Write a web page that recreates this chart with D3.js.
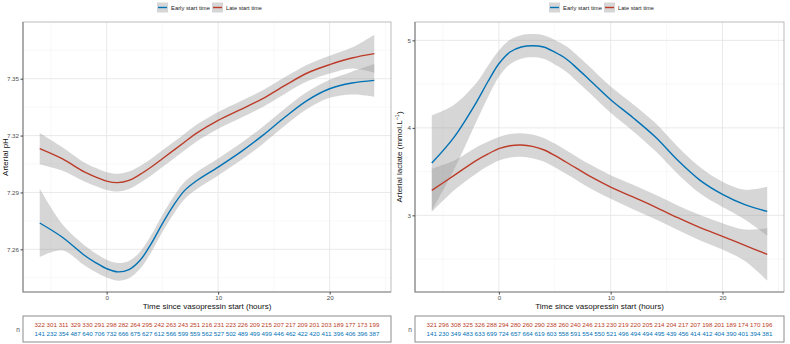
<!DOCTYPE html>
<html>
<head>
<meta charset="utf-8">
<title>Vasopressin start time</title>
<script src="https://cdn.jsdelivr.net/npm/d3@7"></script>
<style>
  body { margin: 0; background: #fff; }
  svg { font-family: "Liberation Sans", Arial, sans-serif; }
</style>
</head>
<body>
<script>
// smoothed curves, read at these hours
var hours = [-6, -4, -2, -1, 0, 1, 2, 3, 4, 5, 6, 7, 8, 10, 12, 14, 16, 18, 20, 22, 24];

// arterial pH
var phEarly = [7.2739, 7.2665, 7.2569, 7.2530, 7.2498, 7.2481, 7.2493, 7.2542, 7.2630, 7.2736, 7.2832, 7.2911, 7.2959, 7.3034, 7.3113, 7.3201, 7.3298, 7.3386, 7.3447, 7.3477, 7.3491];
var phEarlyBand = [0.0180, 0.0070, 0.0053, 0.0050, 0.0047, 0.0047, 0.0046, 0.0045, 0.0045, 0.0045, 0.0045, 0.0045, 0.0045, 0.0045, 0.0045, 0.0045, 0.0045, 0.0045, 0.0048, 0.0060, 0.0086];
var phLate = [7.3131, 7.3078, 7.3008, 7.2982, 7.2960, 7.2952, 7.2964, 7.2995, 7.3034, 7.3078, 7.3122, 7.3166, 7.3210, 7.3280, 7.3337, 7.3395, 7.3465, 7.3530, 7.3574, 7.3609, 7.3632];
var phLateBand = [0.0083, 0.0062, 0.0050, 0.0048, 0.0047, 0.0047, 0.0046, 0.0044, 0.0044, 0.0044, 0.0044, 0.0044, 0.0044, 0.0044, 0.0044, 0.0044, 0.0044, 0.0044, 0.0047, 0.0055, 0.0100];

// arterial lactate
var lacEarly = [3.598, 3.895, 4.295, 4.524, 4.733, 4.867, 4.924, 4.939, 4.924, 4.865, 4.790, 4.680, 4.562, 4.322, 4.116, 3.895, 3.629, 3.400, 3.240, 3.122, 3.046];
var lacEarlyBand = [0.545, 0.37, 0.22, 0.18, 0.15, 0.14, 0.135, 0.133, 0.135, 0.14, 0.145, 0.15, 0.15, 0.15, 0.155, 0.16, 0.155, 0.15, 0.145, 0.17, 0.28];
var lacLate = [3.286, 3.457, 3.629, 3.700, 3.762, 3.796, 3.804, 3.789, 3.750, 3.685, 3.610, 3.533, 3.457, 3.324, 3.210, 3.095, 2.973, 2.859, 2.760, 2.657, 2.554];
var lacLateBand = [0.248, 0.17, 0.15, 0.14, 0.135, 0.135, 0.135, 0.135, 0.135, 0.135, 0.135, 0.135, 0.135, 0.135, 0.14, 0.14, 0.14, 0.145, 0.15, 0.18, 0.30];

// numbers at risk under each panel
var nPhLate = [322, 301, 311, 329, 330, 291, 298, 282, 264, 295, 242, 263, 243, 251, 216, 231, 223, 226, 209, 215, 207, 217, 209, 201, 203, 189, 177, 173, 199];
var nPhEarly = [141, 232, 354, 487, 640, 706, 732, 666, 675, 627, 612, 566, 599, 559, 562, 527, 502, 489, 499, 499, 446, 462, 422, 420, 411, 396, 406, 396, 387];
var nLacLate = [321, 296, 308, 325, 326, 288, 294, 280, 260, 290, 238, 260, 240, 246, 213, 230, 219, 220, 205, 214, 204, 217, 207, 198, 201, 189, 174, 170, 196];
var nLacEarly = [141, 230, 349, 483, 633, 699, 724, 657, 664, 619, 603, 558, 591, 554, 550, 521, 496, 494, 494, 495, 439, 456, 414, 412, 404, 390, 401, 394, 381];

var xTicks = [0, 10, 20];
var xMinor = [-5, 5, 15, 25];
var phTicks = [7.26, 7.29, 7.32, 7.35];
var lacTicks = [3, 4, 5];
var groups = ["Early start time", "Late start time"];
var colors = { early: "#0072B5", late: "#BC3C29" };

var svg = d3.select("body").append("svg")
    .attr("width", 790)
    .attr("height", 344);

function panel(opt) {
    var g = svg.append("g");
    var x = d3.scaleLinear().domain([-7.5, 25.5]).range([opt.left, opt.right]);
    var y = d3.scaleLinear().domain(opt.yDomain).range([292, 22]);

    // grid
    g.selectAll(".gx").data(xMinor).enter().append("line")
        .attr("x1", d => x(d)).attr("x2", d => x(d))
        .attr("y1", 22).attr("y2", 292)
        .attr("stroke", "#f3f3f3").attr("stroke-width", 0.6);
    g.selectAll(".gy").data(opt.yMinor).enter().append("line")
        .attr("x1", opt.left).attr("x2", opt.right)
        .attr("y1", d => y(d)).attr("y2", d => y(d))
        .attr("stroke", "#f3f3f3").attr("stroke-width", 0.6);
    g.selectAll(".mx").data(xTicks).enter().append("line")
        .attr("x1", d => x(d)).attr("x2", d => x(d))
        .attr("y1", 22).attr("y2", 292)
        .attr("stroke", "#e6e6e6").attr("stroke-width", 0.9);
    g.selectAll(".my").data(opt.yTicks).enter().append("line")
        .attr("x1", opt.left).attr("x2", opt.right)
        .attr("y1", d => y(d)).attr("y2", d => y(d))
        .attr("stroke", "#e6e6e6").attr("stroke-width", 0.9);

    // ribbons then lines
    var series = [
        { key: "late", v: opt.late, se: opt.lateBand },
        { key: "early", v: opt.early, se: opt.earlyBand }
    ];
    series.forEach(function (s) {
        var pts = hours.map((h, i) => ({ h: h, v: s.v[i], se: s.se[i] }));
        g.append("path").datum(pts)
            .attr("fill", "#999999").attr("fill-opacity", 0.4)
            .attr("d", d3.area().curve(d3.curveCatmullRom)
                .x(d => x(d.h)).y0(d => y(d.v - d.se)).y1(d => y(d.v + d.se)));
    });
    series.forEach(function (s) {
        var pts = hours.map((h, i) => ({ h: h, v: s.v[i] }));
        g.append("path").datum(pts)
            .attr("fill", "none").attr("stroke", colors[s.key]).attr("stroke-width", 1.4)
            .attr("d", d3.line().curve(d3.curveCatmullRom).x(d => x(d.h)).y(d => y(d.v)));
    });

    // frame
    g.append("rect")
        .attr("x", opt.left).attr("y", 22)
        .attr("width", opt.right - opt.left).attr("height", 270)
        .attr("fill", "none").attr("stroke", "#aaaaaa").attr("stroke-width", 0.8);
    g.append("path")
        .attr("d", "M" + opt.left + ",22V292H" + opt.right)
        .attr("fill", "none").attr("stroke", "#8c8c8c").attr("stroke-width", 1.2);

    // axes
    var xAxis = g.append("g").attr("transform", "translate(0,292)")
        .call(d3.axisBottom(x).tickValues(xTicks).tickSize(2.5).tickPadding(1));
    var yAxis = g.append("g").attr("transform", "translate(" + opt.left + ",0)")
        .call(d3.axisLeft(y).tickValues(opt.yTicks).tickSize(2.5).tickPadding(1.5).tickFormat(opt.fmt));
    [xAxis, yAxis].forEach(function (a) {
        a.select(".domain").remove();
        a.selectAll(".tick line").attr("stroke", "#444");
        a.selectAll("text").attr("fill", "#4d4d4d").style("font-size", "6.2px").style("font-family", "Liberation Sans, Arial, sans-serif");
    });

    g.append("text")
        .attr("x", (opt.left + opt.right) / 2).attr("y", 309)
        .attr("text-anchor", "middle").attr("fill", "#111")
        .style("font-size", "8px")
        .text("Time since vasopressin start (hours)");

    var yt = g.append("text")
        .attr("transform", "translate(" + opt.yTitleX + ",157) rotate(-90)")
        .attr("text-anchor", "middle").attr("fill", "#111")
        .style("font-size", "8px");
    yt.append("tspan").text(opt.yTitle);
    if (opt.yTitleSup) {
        yt.append("tspan").attr("dy", -3).style("font-size", "5.5px").text(opt.yTitleSup);
        yt.append("tspan").attr("dy", 3).text(")");
    }

    // legend
    var lg = g.append("g").attr("transform", "translate(" + (opt.left + 134) + ",0)");
    var offs = [0, 55];
    var widths = [39, 36];
    ["early", "late"].forEach(function (k, i) {
        lg.append("rect").attr("x", offs[i]).attr("y", 2.5).attr("width", 11).attr("height", 10)
            .attr("fill", "#999999").attr("fill-opacity", 0.4);
        lg.append("line").attr("x1", offs[i] + 1).attr("x2", offs[i] + 10)
            .attr("y1", 7.5).attr("y2", 7.5)
            .attr("stroke", colors[k]).attr("stroke-width", 1.4);
        lg.append("text").attr("x", offs[i] + 14).attr("y", 10)
            .attr("fill", "#222").style("font-size", "6.2px")
            .attr("textLength", widths[i]).attr("lengthAdjust", "spacingAndGlyphs")
            .text(groups[i]);
    });

    // numbers at risk table
    g.append("rect")
        .attr("x", opt.left).attr("y", 316)
        .attr("width", opt.right - opt.left).attr("height", 26)
        .attr("fill", "none").attr("stroke", "#8c8c8c").attr("stroke-width", 1);
    g.append("text").attr("x", opt.left - 5).attr("y", 331.5)
        .attr("text-anchor", "middle").style("fill", "#4d4d4d")
        .style("font-size", "6.5px").text("n");
    var col = d3.scalePoint().domain(d3.range(opt.nLate.length)).range([x(-6), x(24)]);
    [["late", opt.nLate, 326.5], ["early", opt.nEarly, 336]].forEach(function (r) {
        g.selectAll(null).data(r[1]).enter().append("text")
            .attr("x", (d, i) => col(i)).attr("y", r[2])
            .attr("text-anchor", "middle").attr("fill", colors[r[0]])
            .style("font-size", "6.2px")
            .text(d => d);
    });
}

panel({
    left: 23, right: 391,
    yDomain: [7.2375, 7.3799],
    yTicks: phTicks, yMinor: [7.245, 7.275, 7.305, 7.335, 7.365],
    fmt: d3.format(".2f"),
    early: phEarly, earlyBand: phEarlyBand, late: phLate, lateBand: phLateBand,
    nEarly: nPhEarly, nLate: nPhLate,
    yTitle: "Arterial pH", yTitleX: 8
});

panel({
    left: 415, right: 784,
    yDomain: [2.124, 5.21],
    yTicks: lacTicks, yMinor: [2.5, 3.5, 4.5],
    fmt: d3.format("d"),
    early: lacEarly, earlyBand: lacEarlyBand, late: lacLate, lateBand: lacLateBand,
    nEarly: nLacEarly, nLate: nLacLate,
    yTitle: "Arterial lactate (mmol.L", yTitleSup: "\u22121", yTitleX: 402
});
</script>
</body>
</html>
